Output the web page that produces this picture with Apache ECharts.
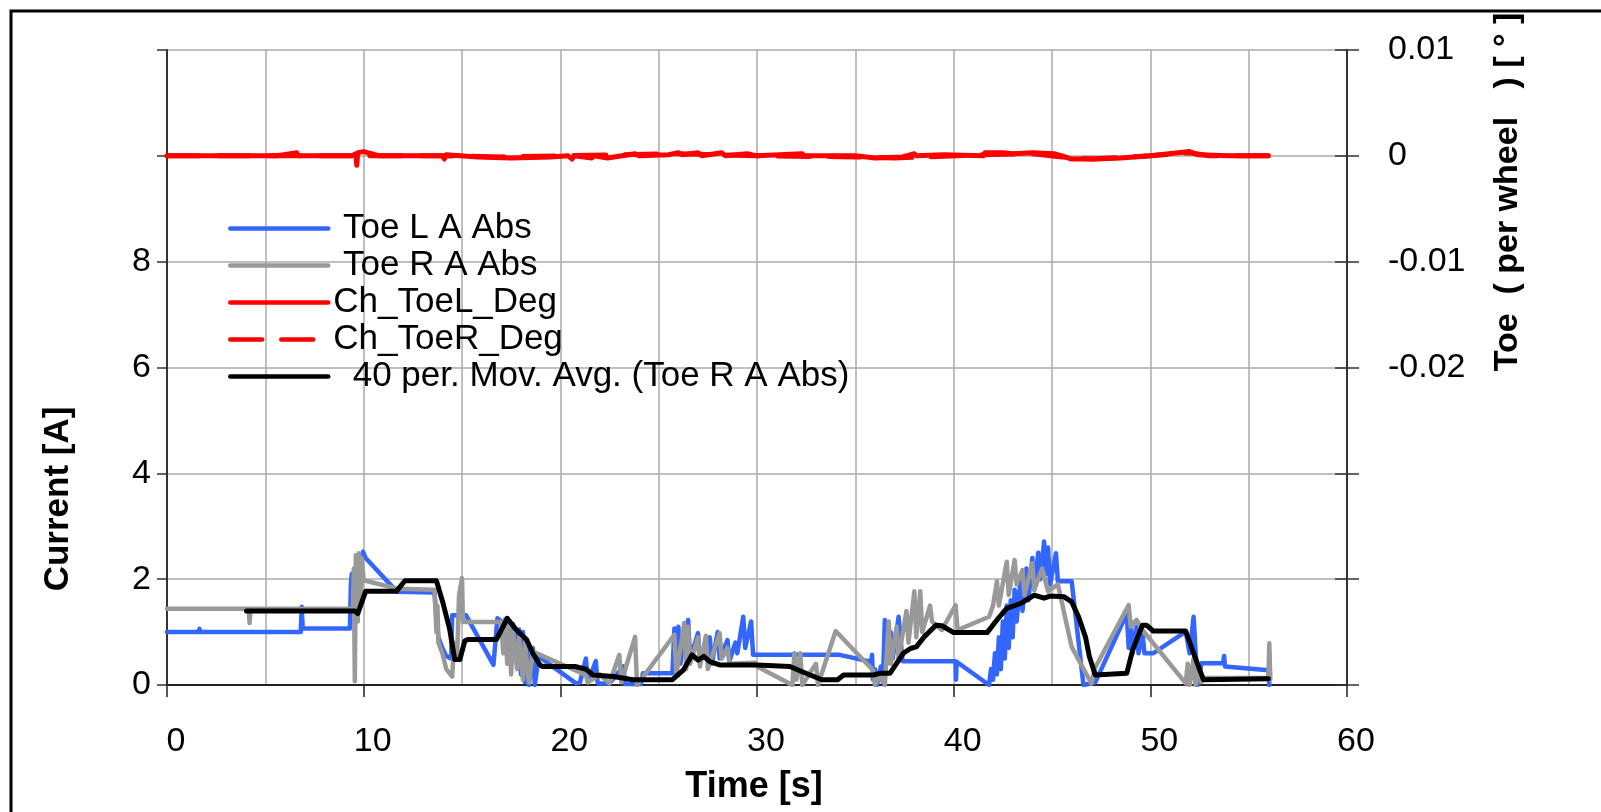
<!DOCTYPE html>
<html>
<head>
<meta charset="utf-8">
<script src="https://cdn.jsdelivr.net/npm/echarts@6/dist/echarts.min.js"></script>
<style>
html,body{margin:0;padding:0;background:#fff;}
#chart{width:1601px;height:812px;}
</style>
</head>
<body>
<div id="chart"></div>
<script>
// ---- Data (time [s], value) ----
const seriesNames = ["Toe L A Abs", "Toe R A Abs", "Ch_ToeL_Deg", "Ch_ToeR_Deg", "40 per. Mov. Avg. (Toe R A Abs)"];
const xTicks = [0, 10, 20, 30, 40, 50, 60];
const leftTicks = [0, 2, 4, 6, 8];
const rightTicks = [0.01, 0, -0.01, -0.02];

const toeLAbs = [[0,1.0],[1.6,1.0],[1.65,1.06],[1.7,1.0],[6.8,1.0],[6.85,1.48],[6.9,1.07],[9.3,1.07],[9.35,1.9],[9.4,2.1],[9.5,1.6],[9.6,2.2],[9.75,1.75],[9.85,2.3],[9.97,2.52],[10.1,2.4],[11.7,1.76],[13.6,1.75],[13.7,1.3],[13.8,0.9],[14.0,0.7],[14.2,0.55],[14.45,0.5],[14.5,1.32],[15.2,1.32],[16.6,0.38],[16.8,1.26],[17.0,1.2],[17.3,1.2],[17.5,0.9],[17.6,1.15],[17.8,0.5],[17.9,1.05],[18.0,0.2],[18.1,1.0],[18.2,0.05],[18.3,0.8],[18.4,0.0],[18.6,0.7],[18.7,0.0],[18.9,0.54],[20.8,0.03],[21.0,0.05],[21.3,0.5],[21.4,0.05],[21.8,0.45],[21.9,0.03],[22.5,0.03],[23.2,0.35],[23.3,0.02],[24.1,0.02],[24.2,0.22],[25.7,0.22],[25.8,1.07],[25.9,0.3],[26.0,1.1],[26.1,0.4],[26.5,1.23],[26.6,0.5],[27.0,0.98],[27.1,0.45],[27.6,0.9],[27.7,0.4],[28.0,1.0],[28.1,0.5],[28.5,0.85],[28.6,0.45],[28.9,0.8],[29.0,0.6],[29.3,1.29],[29.4,0.7],[29.7,1.2],[29.8,0.57],[34.2,0.57],[35.8,0.44],[35.85,0.57],[35.9,0.1],[36.0,0.3],[36.1,0.0],[36.3,0.35],[36.4,0.05],[36.5,1.23],[36.6,0.4],[36.8,1.0],[36.9,0.5],[37.2,1.29],[37.4,0.45],[40.1,0.45],[40.12,0.1],[40.15,0.44],[41.8,0.0],[41.9,0.3],[42.0,0.1],[42.1,0.6],[42.2,0.2],[42.3,0.9],[42.4,0.3],[42.5,1.2],[42.6,0.5],[42.7,1.5],[42.8,0.7],[42.9,1.6],[43.0,0.9],[43.1,1.8],[43.2,1.2],[43.4,2.0],[43.5,1.4],[43.7,2.2],[43.8,1.6],[44.0,2.4],[44.1,1.8],[44.3,2.5],[44.4,2.0],[44.6,2.71],[44.7,2.1],[44.8,2.6],[44.9,1.9],[45.2,2.49],[45.3,1.96],[46.0,1.96],[46.6,0.0],[47.2,0.05],[48.8,1.35],[48.9,0.7],[49.0,1.2],[49.1,0.6],[49.3,1.1],[49.4,0.6],[49.6,1.0],[49.7,0.6],[50.15,0.6],[51.8,1.01],[52.0,0.6],[52.2,1.29],[52.4,0.0],[52.6,0.41],[53.7,0.41],[53.75,0.55],[53.8,0.35],[56.0,0.28],[56.05,0.0]];

const toeRAbs = [[0,1.44],[4.15,1.44],[4.2,1.17],[4.25,1.44],[9.45,1.44],[9.5,2.2],[9.55,0.07],[9.6,2.45],[9.7,1.2],[9.75,2.49],[9.85,1.6],[9.9,2.4],[10.0,1.98],[11.7,1.82],[13.6,1.8],[13.7,1.0],[13.75,1.5],[13.8,0.8],[14.0,0.6],[14.2,0.3],[14.5,0.16],[14.6,0.8],[14.75,0.5],[14.85,1.7],[15.0,2.02],[15.05,1.19],[17.0,1.19],[17.1,0.6],[17.2,1.25],[17.3,0.4],[17.4,1.1],[17.5,0.2],[17.6,1.0],[17.8,0.3],[17.9,0.9],[18.1,0.1],[18.2,0.8],[18.4,0.05],[18.6,0.63],[21.3,0.19],[21.4,0.05],[22.0,0.2],[22.5,0.03],[23.0,0.57],[23.1,0.05],[23.8,0.91],[23.9,0.0],[24.2,0.15],[25.8,0.95],[25.9,0.2],[26.3,1.17],[26.4,0.3],[26.5,1.1],[26.6,0.4],[27.0,0.9],[27.1,0.35],[27.4,0.93],[27.5,0.3],[28.1,0.98],[28.2,0.5],[28.5,0.7],[28.6,0.4],[29.9,0.42],[30.0,0.35],[31.8,0.0],[31.9,0.6],[32.0,0.1],[32.2,0.6],[32.3,0.0],[33.0,0.4],[33.1,0.0],[34.0,1.02],[35.9,0.28],[36.0,0.0],[36.3,0.2],[36.5,0.0],[36.7,1.2],[36.8,0.4],[37.1,1.1],[37.2,0.5],[37.6,1.4],[37.7,0.8],[38.0,1.77],[38.1,0.9],[38.3,1.77],[38.4,1.0],[38.8,1.5],[38.9,1.2],[39.0,1.19],[39.4,1.04],[40.1,1.51],[40.2,1.04],[41.8,1.29],[42.0,1.5],[42.2,1.96],[42.3,1.5],[42.7,2.33],[42.8,1.7],[43.1,2.36],[43.2,1.9],[43.5,2.17],[43.6,1.7],[44.0,2.3],[44.1,1.8],[44.5,2.2],[44.8,1.77],[45.3,1.9],[46.0,0.72],[47.0,0.03],[47.2,0.33],[48.9,1.51],[49.0,1.1],[49.3,1.23],[49.6,1.04],[51.8,0.03],[51.9,0.4],[52.0,0.0],[52.2,0.5],[52.3,0.0],[52.5,0.3],[52.6,0.05],[52.7,0.13],[56.0,0.13],[56.05,0.79],[56.1,0.1]];

const chToeLDeg = [[0,0],[1.3,0],[1.35,0.0001],[2.5,0],[5.6,0],[6.6,0.0003],[6.65,0],[9.4,0],[9.6,0.0002],[9.65,-0.0009],[9.7,0.0003],[10.0,0.0004],[10.4,0.0002],[10.8,0],[14.0,0],[14.1,-0.0003],[14.2,0.0001],[15.8,-0.0001],[17.5,-0.0002],[19.5,-0.0001],[20.4,0],[20.6,-0.0003],[20.7,0],[21.6,-0.0002],[21.7,0],[22.4,-0.0002],[23.8,0.0002],[24.0,0],[25.5,0.0001],[26.0,0.0003],[26.2,0.0001],[27.0,0.0003],[27.2,0],[28.2,0.0003],[28.4,0],[29.5,0.0002],[30,0],[32.3,0.0002],[32.4,0],[35.0,0],[36.0,-0.0002],[37.4,-0.0001],[38.0,0.0002],[38.1,0],[39.5,0.0001],[41.5,0],[41.6,0.0003],[42.5,0.0003],[43.0,0.0002],[44.0,0.0003],[45.1,0.0002],[45.5,0],[46.0,-0.0003],[47.2,-0.0003],[48.5,-0.0002],[50.0,0],[52.0,0.0004],[52.4,0.0001],[54.0,0],[56.0,0]];

const chToeRDeg = [[0,0],[9.5,0],[9.65,0.0002],[10,0],[14,0],[17,-0.0001],[20,0],[26,0.0002],[30,0],[35,-0.0001],[37,-0.0002],[41.5,0.0001],[44,0.0002],[45.5,-0.0001],[47,-0.0003],[50,0],[52,0.0003],[53,0],[56,0]];

const movAvg = [[4.04,1.40],[9.55,1.40],[9.7,1.35],[10.1,1.77],[11.66,1.77],[12.1,1.97],[13.7,1.97],[14.04,1.54],[14.38,1.04],[14.63,0.48],[14.89,0.48],[15.14,0.83],[15.3,0.86],[16.75,0.86],[17.3,1.26],[17.43,1.2],[17.77,1.04],[18.28,0.86],[18.6,0.6],[18.96,0.38],[19.1,0.35],[20.74,0.35],[21.3,0.3],[21.67,0.19],[22.69,0.16],[23.7,0.1],[25.7,0.1],[26.25,0.28],[26.7,0.57],[27.0,0.47],[27.3,0.54],[27.6,0.44],[28.1,0.38],[30.0,0.38],[31.67,0.35],[32.7,0.19],[33.3,0.1],[34.1,0.1],[34.4,0.19],[35.9,0.19],[36.25,0.22],[36.76,0.22],[37.44,0.6],[37.8,0.69],[38.1,0.72],[38.5,0.91],[39.1,1.13],[39.4,1.12],[40.0,0.99],[41.7,0.99],[42.2,1.23],[42.7,1.45],[43.4,1.54],[44.1,1.70],[44.6,1.64],[44.9,1.68],[45.6,1.67],[46.0,1.57],[46.35,1.29],[46.7,0.91],[46.9,0.54],[47.2,0.19],[48.8,0.22],[49.1,0.66],[49.6,1.13],[49.8,1.13],[50.15,1.02],[51.8,1.02],[52.2,0.6],[52.7,0.1],[56.0,0.12]];

// ---- Chart ----
const FONT = "'Liberation Sans', Arial, sans-serif";
const gridLine = { color: '#aaaaaa', width: 1.5 };
const legendPrefix = { "Toe L A Abs": " ", "Toe R A Abs": " ", "Ch_ToeL_Deg": "", "Ch_ToeR_Deg": "", "40 per. Mov. Avg. (Toe R A Abs)": "  " };

const chart = echarts.init(document.getElementById('chart'), null, { renderer: 'canvas' });
const lineSeries = (name, data, color, width, yIdx, type) => ({
  name, type: 'line', data, yAxisIndex: yIdx, showSymbol: false, symbol: 'none',
  animation: false, lineStyle: { color, width, type: type || 'solid', join: 'round', cap: 'round' },
  itemStyle: { color }
});

chart.setOption({
  animation: false,
  backgroundColor: '#fff',
  textStyle: { fontFamily: FONT },
  grid: { left: 167, right: 254, top: 50, bottom: 127 },
  legend: {
    data: seriesNames,
    orient: 'vertical', left: 223, top: 205,
    itemWidth: 98, itemHeight: 14, itemGap: 0,
    itemStyle: { opacity: 0 },
    lineStyle: { width: 4.5 },
    textStyle: { fontSize: 35, lineHeight: 37, color: '#000', fontFamily: FONT },
    formatter: n => legendPrefix[n] + n,
    selectedMode: false
  },
  xAxis: {
    type: 'value', min: 0, max: 60, interval: 10,
    axisLine: { show: true, onZero: false, lineStyle: { color: '#222', width: 2 } },
    axisTick: { show: true, length: 12, inside: false, lineStyle: { color: '#222', width: 1.5 } },
    minorTick: { show: false, splitNumber: 2 },
    minorSplitLine: { show: true, lineStyle: gridLine },
    splitLine: { show: true, lineStyle: gridLine },
    axisLabel: { fontSize: 34, color: '#000', margin: 40, padding: [0, 0, 0, 18], fontFamily: FONT,
      formatter: v => xTicks.includes(v) ? String(v) : '' }
  },
  yAxis: [
    {
      type: 'value', min: 0, max: 12, interval: 2, position: 'left',
      axisLine: { show: true, lineStyle: { color: '#333', width: 2 } },
      axisTick: { show: true, length: 10, lineStyle: { color: '#333', width: 1.5 } },
      splitLine: { show: true, lineStyle: gridLine },
      axisLabel: { fontSize: 34, color: '#000', margin: 16, fontFamily: FONT,
        formatter: v => leftTicks.includes(v) ? String(v) : '' }
    },
    {
      type: 'value', min: -0.05, max: 0.01, interval: 0.01, position: 'right',
      axisLine: { show: true, lineStyle: { color: '#333', width: 2 } },
      axisTick: { show: true, length: 12, lineStyle: { color: '#333', width: 1.5 } },
      splitLine: { show: false },
      axisLabel: { fontSize: 34, color: '#000', margin: 41, fontFamily: FONT,
        formatter: v => { const r = Math.round(v * 100) / 100; return rightTicks.includes(r) ? String(r) : ''; } }
    },
    {
      type: 'value', min: -0.05, max: 0.01, interval: 0.01, position: 'right',
      axisLine: { show: false },
      axisTick: { show: true, inside: true, length: 12, lineStyle: { color: '#333', width: 1.5 } },
      splitLine: { show: false },
      axisLabel: { show: false }
    }
  ],
  series: [
    lineSeries(seriesNames[0], toeLAbs, '#3366ff', 4.5, 0),
    lineSeries(seriesNames[1], toeRAbs, '#999999', 4.5, 0),
    lineSeries(seriesNames[3], chToeRDeg, '#ff0000', 5, 1, [32, 19]),
    lineSeries(seriesNames[2], chToeLDeg, '#ff0000', 5, 1),
    lineSeries(seriesNames[4], movAvg, '#000000', 5, 0)
  ],
  graphic: [
    { type: 'rect', silent: true, z: 100, shape: { x: 11, y: 11, width: 1700, height: 1000 },
      style: { fill: 'none', stroke: '#000', lineWidth: 3 } },
    { type: 'text', x: 58, y: 499, rotation: Math.PI / 2, z: 100,
      style: { text: 'Current [A]', font: 'bold 35px ' + FONT, fill: '#000', textAlign: 'center', textVerticalAlign: 'middle' } },
    { type: 'text', x: 754, y: 787, z: 100,
      style: { text: 'Time [s]', font: 'bold 36px ' + FONT, fill: '#000', textAlign: 'center', textVerticalAlign: 'middle' } },
    { type: 'text', x: 1508, y: 192, rotation: Math.PI / 2, z: 100,
      style: { text: 'Toe  ( per wheel   ) [ ° ]', font: 'bold 34px ' + FONT, fill: '#000', textAlign: 'center', textVerticalAlign: 'middle' } }
  ]
});
</script>
</body>
</html>
